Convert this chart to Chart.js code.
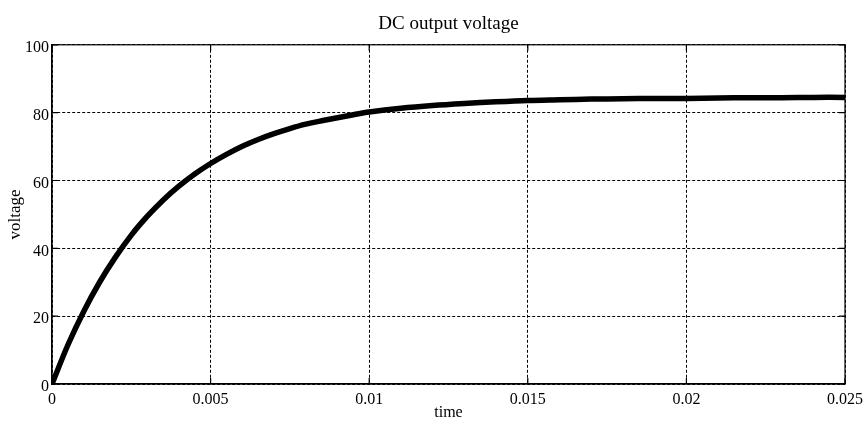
<!DOCTYPE html>
<html>
<head>
<meta charset="utf-8">
<script src="https://cdn.jsdelivr.net/npm/chart.js@4/dist/chart.umd.min.js"></script>
<style>
  html, body { margin: 0; padding: 0; background: #fff; }
</style>
</head>
<body>
<canvas id="dcChart" width="864" height="427"></canvas>
<script>
// time (s) and output voltage
const times = [0, 0.0005, 0.001, 0.0015, 0.002, 0.0025, 0.003, 0.0035, 0.004, 0.0045,
  0.005, 0.0055, 0.006, 0.0065, 0.007, 0.0075, 0.008, 0.0085, 0.009, 0.0095,
  0.01, 0.011, 0.012, 0.013, 0.014, 0.015, 0.016, 0.017, 0.018, 0.019,
  0.02, 0.021, 0.022, 0.023, 0.024, 0.025];
const voltage = [0, 11.5, 21.4, 30.0, 37.4, 43.9, 49.4, 54.2, 58.3, 61.9,
  65.0, 67.7, 70.1, 72.1, 73.8, 75.3, 76.6, 77.6, 78.5, 79.4,
  80.2, 81.3, 82.1, 82.7, 83.2, 83.6, 83.8, 84.0, 84.1, 84.2,
  84.2, 84.3, 84.4, 84.4, 84.5, 84.5];
const xTicks = [0, 0.005, 0.01, 0.015, 0.02, 0.025];
const yTicks = [0, 20, 40, 60, 80, 100];

const serif = "'Liberation Serif', 'Times New Roman', serif";

// outer frame + inward tick marks, MATLAB style
const framePlugin = {
  id: "frame",
  afterDraw(chart) {
    const { ctx, chartArea: a, scales } = chart;
    ctx.save();
    ctx.strokeStyle = "#000";
    ctx.lineWidth = 1.2;
    ctx.strokeRect(a.left, a.top, a.right - a.left, a.bottom - a.top);
    ctx.beginPath();
    xTicks.forEach(v => {
      const px = scales.x.getPixelForValue(v);
      ctx.moveTo(px, a.bottom); ctx.lineTo(px, a.bottom - 6);
      ctx.moveTo(px, a.top); ctx.lineTo(px, a.top + 6);
    });
    yTicks.forEach(v => {
      const py = scales.y.getPixelForValue(v);
      ctx.moveTo(a.left, py); ctx.lineTo(a.left + 6, py);
      ctx.moveTo(a.right, py); ctx.lineTo(a.right - 6, py);
    });
    ctx.stroke();
    ctx.restore();
  }
};

const ctx = document.getElementById("dcChart").getContext("2d");
new Chart(ctx, {
  type: "line",
  data: {
    datasets: [{
      label: "voltage",
      data: times.map((t, i) => ({ x: t, y: voltage[i] })),
      borderColor: "#000",
      borderWidth: 5.5,
      pointRadius: 0,
      tension: 0.3,
      fill: false
    }]
  },
  options: {
    responsive: false,
    animation: false,
    layout: { padding: { left: 0, right: 19, top: 0, bottom: 0 } },
    plugins: {
      legend: { display: false },
      tooltip: { enabled: false },
      title: {
        display: true,
        fullSize: false,
        text: "DC output voltage",
        color: "#000",
        font: { family: serif, size: 19, weight: "normal" },
        padding: { top: 13, bottom: 9 }
      }
    },
    scales: {
      x: {
        type: "linear",
        min: 0,
        max: 0.025,
        afterBuildTicks: s => { s.ticks = xTicks.map(v => ({ value: v })); },
        afterFit: s => { s.height = 43; s.paddingRight = 0; s.paddingLeft = 0; },
        ticks: {
          color: "#000",
          font: { family: serif, size: 16 },
          padding: 6,
          maxRotation: 0,
          autoSkip: false,
          callback: v => String(v)
        },
        grid: { color: "#000", lineWidth: 1, drawTicks: false },
        border: { display: true, color: "#000", width: 1.2, dash: [3, 2] },
        title: {
          display: true,
          text: "time",
          color: "#000",
          font: { family: serif, size: 16 },
          padding: { top: 0, bottom: 5 }
        }
      },
      y: {
        min: 0,
        max: 100,
        afterBuildTicks: s => { s.ticks = yTicks.map(v => ({ value: v })); },
        afterFit: s => { s.width = 52; },
        ticks: {
          color: "#000",
          font: { family: serif, size: 16 },
          padding: 3,
          labelOffset: 3,
          autoSkip: false
        },
        grid: { color: "#000", lineWidth: 1, drawTicks: false },
        border: { display: true, color: "#000", width: 1.2, dash: [3, 2] },
        title: {
          display: true,
          text: "voltage",
          color: "#000",
          font: { family: serif, size: 17 },
          padding: { top: 5, bottom: 0 }
        }
      }
    }
  },
  plugins: [framePlugin]
});
</script>
</body>
</html>
